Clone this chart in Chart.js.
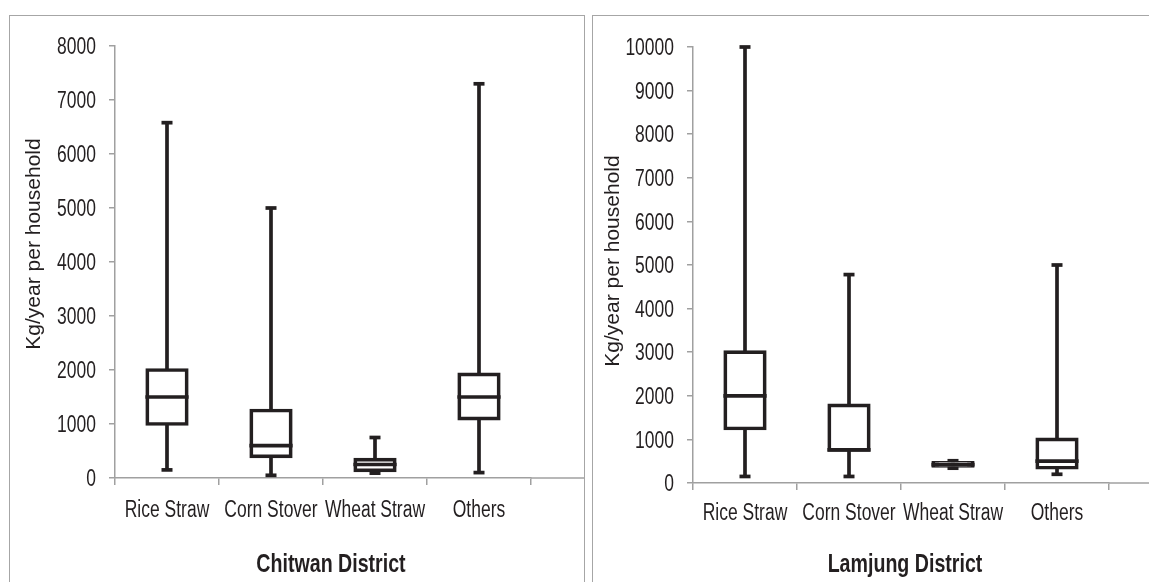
<!DOCTYPE html>
<html>
<head>
<meta charset="utf-8">
<script src="https://cdn.jsdelivr.net/npm/chart.js@4.4.1/dist/chart.umd.min.js"></script>
<style>
  html, body { margin: 0; padding: 0; background: #fff; width: 1149px; height: 582px; overflow: hidden; }
  .panel { position: absolute; box-sizing: border-box; border: 1.5px solid #a6a6a6; background: #fff; }
  #panelLeft { left: 9px; top: 15px; width: 576px; height: 620px; }
  #panelRight { left: 592px; top: 15px; width: 620px; height: 620px; }
  canvas { position: absolute; top: 0; }
  #chitwan { left: 0; }
  #lamjung { left: 592px; }
</style>
</head>
<body>
<div class="panel" id="panelLeft"></div>
<div class="panel" id="panelRight"></div>
<canvas id="chitwan" width="584" height="582"></canvas>
<canvas id="lamjung" width="557" height="582"></canvas>
<script>
// Residue categories (x axis)
const categories = ['Rice Straw', 'Corn Stover', 'Wheat Straw', 'Others'];

// Chitwan District, kg/year per household
const chitwanMin    = [150, 50, 90, 100];
const chitwanQ1     = [1000, 400, 140, 1100];
const chitwanMedian = [1500, 600, 250, 1500];
const chitwanQ3     = [2000, 1250, 340, 1920];
const chitwanMax    = [6580, 5000, 750, 7300];
const chitwanTicks  = [0, 1000, 2000, 3000, 4000, 5000, 6000, 7000, 8000];

// Lamjung District, kg/year per household
const lamjungMin    = [150, 150, 340, 200];
const lamjungQ1     = [1250, 760, 390, 350];
const lamjungMedian = [2000, 760, 420, 500];
const lamjungQ3     = [3000, 1780, 460, 1000];
const lamjungMax    = [10000, 4780, 510, 5000];
const lamjungTicks  = [0, 1000, 2000, 3000, 4000, 5000, 6000, 7000, 8000, 9000, 10000];

const INK = '#231f20';
const AXIS = '#a0a0a0';
const STROKE = 3.7;
const SANS = '"Liberation Sans", Arial, sans-serif';

// Horizontal labels use a condensed face: regular sans squeezed sideways
const LABEL_SIZE = 23;
const LABEL_SQUEEZE = 0.76;
const TITLE_SIZE = 26.5;
const TITLE_SQUEEZE = 0.74;

function condensedText(ctx, text, x, y, font, align, squeeze) {
  ctx.save();
  ctx.translate(x, y);
  ctx.scale(squeeze, 1);
  ctx.font = font;
  ctx.fillStyle = INK;
  ctx.textAlign = align;
  ctx.textBaseline = 'alphabetic';
  ctx.fillText(text, 0, 0);
  ctx.restore();
}

// Whiskers, caps and median lines drawn through the chart's own scales
const boxPlot = {
  id: 'boxPlot',
  beforeDatasetsDraw(chart, args, opts) {
    const { ctx } = chart;
    const y = chart.scales.y;
    const meta = chart.getDatasetMeta(0);
    ctx.save();
    ctx.strokeStyle = INK;
    ctx.fillStyle = INK;
    ctx.lineWidth = STROKE;
    meta.data.forEach((bar, i) => {
      const yLo = y.getPixelForValue(opts.min[i]);
      const yHi = y.getPixelForValue(opts.max[i]);
      ctx.beginPath();
      ctx.moveTo(bar.x, yLo);
      ctx.lineTo(bar.x, yHi);
      ctx.stroke();
      [yLo, yHi].forEach(py => {
        ctx.fillRect(bar.x - opts.capWidth / 2, py - STROKE / 2, opts.capWidth, STROKE);
      });
    });
    ctx.restore();
  },
  afterDatasetsDraw(chart, args, opts) {
    const { ctx } = chart;
    const y = chart.scales.y;
    const meta = chart.getDatasetMeta(0);
    ctx.save();
    ctx.strokeStyle = INK;
    ctx.lineWidth = STROKE;
    meta.data.forEach((bar, i) => {
      const py = y.getPixelForValue(opts.median[i]);
      const half = bar.width / 2 + STROKE / 2;
      ctx.beginPath();
      ctx.moveTo(bar.x - half, py);
      ctx.lineTo(bar.x + half, py);
      ctx.stroke();
    });
    ctx.restore();
  }
};

// Tick labels, axis titles and the x axis line running on to the panel edge
const panelDecor = {
  id: 'panelDecor',
  afterDraw(chart, args, opts) {
    const { ctx, chartArea } = chart;
    const xs = chart.scales.x, ys = chart.scales.y;
    ctx.save();
    ctx.strokeStyle = AXIS;
    ctx.lineWidth = 1.5;
    ctx.beginPath();
    ctx.moveTo(chartArea.right, chartArea.bottom);
    ctx.lineTo(chart.width, chartArea.bottom);
    ctx.stroke();
    ctx.restore();

    const labelFont = LABEL_SIZE + 'px ' + SANS;
    const capHalf = LABEL_SIZE * 0.716 / 2;
    ys.ticks.forEach(t => {
      condensedText(ctx, String(t.value), chartArea.left - 19,
        ys.getPixelForValue(t.value) + capHalf, labelFont, 'right', LABEL_SQUEEZE);
    });
    chart.data.labels.forEach((label, i) => {
      condensedText(ctx, label, xs.getPixelForValue(i), chartArea.bottom + opts.xLabelDrop,
        labelFont, 'center', LABEL_SQUEEZE);
    });

    condensedText(ctx, opts.xTitle, opts.xTitleX, opts.xTitleY,
      'bold ' + TITLE_SIZE + 'px ' + SANS, 'center', TITLE_SQUEEZE);

    ctx.save();
    ctx.translate(opts.yTitleX, opts.yTitleY);
    ctx.rotate(-Math.PI / 2);
    ctx.font = '21px ' + SANS;
    ctx.fillStyle = INK;
    ctx.textAlign = 'center';
    ctx.textBaseline = 'middle';
    ctx.fillText(opts.yTitle, 0, 0);
    ctx.restore();
  }
};

function makeChart(id, d) {
  return new Chart(document.getElementById(id), {
    type: 'bar',
    data: {
      labels: categories,
      datasets: [{
        data: d.q1.map((v, i) => [v, d.q3[i]]),
        backgroundColor: '#ffffff',
        borderColor: INK,
        borderWidth: STROKE,
        borderSkipped: false,
        inflateAmount: STROKE / 2,
        barPercentage: 0.38,
        categoryPercentage: 1
      }]
    },
    options: {
      responsive: false,
      animation: false,
      devicePixelRatio: 1,
      layout: { padding: d.padding },
      plugins: {
        legend: { display: false },
        tooltip: { enabled: false },
        boxPlot: { min: d.min, max: d.max, median: d.median, capWidth: 11 },
        panelDecor: d.decor
      },
      scales: {
        x: {
          offset: true,
          grid: { offset: true, drawOnChartArea: false, drawTicks: true, tickLength: 7, color: AXIS, lineWidth: 1.5 },
          border: { color: AXIS, width: 1.5 },
          ticks: { display: false },
          afterFit: s => { s.height = d.xHeight; }
        },
        y: {
          min: 0,
          max: d.ticks[d.ticks.length - 1],
          grid: { drawOnChartArea: false, drawTicks: true, tickLength: 6, color: AXIS, lineWidth: 1.5 },
          border: { color: AXIS, width: 1.5 },
          ticks: { display: false },
          afterBuildTicks: s => { s.ticks = d.ticks.map(v => ({ value: v })); },
          afterFit: s => { s.width = d.yWidth; }
        }
      }
    },
    plugins: [boxPlot, panelDecor]
  });
}

makeChart('chitwan', {
  q1: chitwanQ1, q3: chitwanQ3, min: chitwanMin, max: chitwanMax, median: chitwanMedian,
  ticks: chitwanTicks,
  padding: { left: 0, top: 46, right: 53, bottom: 0 },
  yWidth: 115, xHeight: 104,
  decor: { xLabelDrop: 39, xTitle: 'Chitwan District', xTitleX: 331, xTitleY: 572,
           yTitle: 'Kg/year per household', yTitleX: 34, yTitleY: 244 }
});

makeChart('lamjung', {
  q1: lamjungQ1, q3: lamjungQ3, min: lamjungMin, max: lamjungMax, median: lamjungMedian,
  ticks: lamjungTicks,
  padding: { left: 0, top: 47, right: 40, bottom: 0 },
  yWidth: 101, xHeight: 99,
  decor: { xLabelDrop: 37, xTitle: 'Lamjung District', xTitleX: 313, xTitleY: 572,
           yTitle: 'Kg/year per household', yTitleX: 21, yTitleY: 261 }
});
</script>
</body>
</html>
